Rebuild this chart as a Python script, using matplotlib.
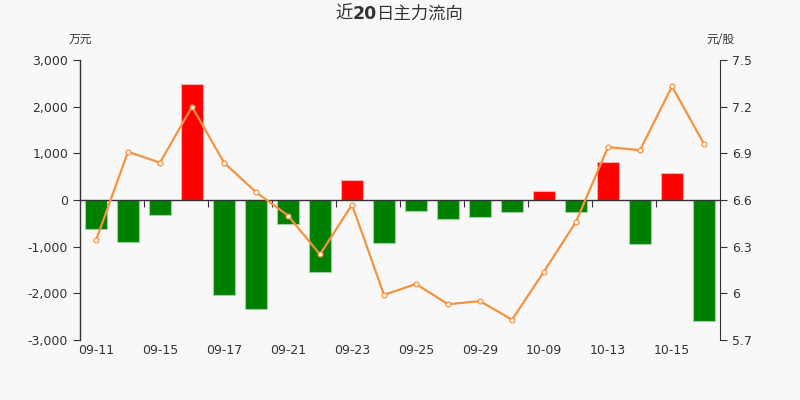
import matplotlib
matplotlib.use("Agg")
import matplotlib.pyplot as plt
import numpy as np
from matplotlib.ticker import FuncFormatter, FixedLocator

dates = ["09-11", "09-14", "09-15", "09-16", "09-17", "09-18", "09-21", "09-22",
         "09-23", "09-24", "09-25", "09-28", "09-29", "09-30", "10-09", "10-12",
         "10-13", "10-14", "10-15", "10-16"]
flow = [-630, -890, -320, 2490, -2030, -2345, -520, -1545, 420, -930,
        -245, -400, -370, -255, 190, -255, 815, -945, 580, -2595]
price = [6.34, 6.91, 6.84, 7.20, 6.84, 6.65, 6.50, 6.25, 6.57, 5.99,
         6.06, 5.93, 5.95, 5.83, 6.14, 6.46, 6.94, 6.92, 7.33, 6.96]
left_ticks = [-3000, -2000, -1000, 0, 1000, 2000, 3000]
right_ticks = [5.7, 6.0, 6.3, 6.6, 6.9, 7.2, 7.5]
title_parts = ["近", "20", "日主力流向"]

BG = "#f8f8f8"
TXT = "#333333"
CJK = ["Noto Sans CJK SC", "DejaVu Sans"]
LAT = ["DejaVu Sans", "Noto Sans CJK SC"]

fig = plt.figure(figsize=(8, 4), dpi=100, facecolor=BG)
ax = fig.add_axes([0.1, 0.15, 0.8, 0.7], facecolor=BG)
x = np.arange(len(dates))
colors = ["#ff0000" if v >= 0 else "#008000" for v in flow]
edges = ["#f4b0b0" if v >= 0 else "#9fd09f" for v in flow]
ax.bar(x, flow, width=0.7, color=colors, edgecolor=edges, linewidth=0.8, zorder=2)
ax.set_xlim(-0.5, len(dates) - 0.5)
ax.set_ylim(-3000, 3000)
ax.yaxis.set_major_locator(FixedLocator(left_ticks))
ax.yaxis.set_major_formatter(FuncFormatter(lambda v, p: f"{int(v):,}"))
ax.spines["top"].set_visible(False)
ax.spines["right"].set_visible(False)
ax.spines["bottom"].set_position(("data", 0))
for s in ["left", "bottom"]:
    ax.spines[s].set_color(TXT)
    ax.spines[s].set_linewidth(1.0)
ax.set_xticks(np.arange(1.5, len(dates) - 0.5, 2))
ax.tick_params(axis="x", length=5, color=TXT, labelbottom=False)
ax.tick_params(axis="y", length=5, color=TXT, labelcolor=TXT, labelsize=9)
for i in range(0, len(dates), 2):
    ax.text(i, -0.015, dates[i], transform=ax.get_xaxis_transform(),
            ha="center", va="top", fontsize=9, color=TXT)

ax2 = ax.twinx()
ax2.set_ylim(5.7, 7.5)
ax2.yaxis.set_major_locator(FixedLocator(right_ticks))
ax2.yaxis.set_major_formatter(FuncFormatter(lambda v, p: f"{v:g}"))
for s in ["top", "left", "bottom"]:
    ax2.spines[s].set_visible(False)
ax2.spines["right"].set_color(TXT)
ax2.tick_params(axis="y", length=5, color=TXT, labelcolor=TXT, labelsize=9)
ax2.plot(x, price, color="#f7913d", linewidth=1.6, marker="o", markersize=3.5,
         markerfacecolor="white", markeredgecolor="#f7913d", markeredgewidth=0.9, zorder=3)

fig.text(0.1, 0.902, "万元", ha="center", va="center", fontsize=8.5, color=TXT, family=CJK)
fig.text(0.9, 0.902, "元/股", ha="center", va="center", fontsize=8.5, color=TXT, family=CJK)

fig.canvas.draw()
r = fig.canvas.get_renderer()
t1 = fig.text(0, 0, title_parts[0], fontsize=12.5, color=TXT, family=CJK)
t2 = fig.text(0, 0, title_parts[1], fontsize=12.5, color=TXT, family=LAT, fontweight="bold")
t3 = fig.text(0, 0, title_parts[2], fontsize=12.5, color=TXT, family=CJK)
ws = [t.get_window_extent(r).width for t in (t1, t2, t3)]
total = sum(ws)
xs = 400 - total / 2
yc = 400 - 14
for t, w in zip((t1, t2, t3), ws):
    t.set_position((xs / 800, yc / 400))
    t.set_va("center")
    xs += w

fig.savefig("out.png", dpi=100, facecolor=BG)
